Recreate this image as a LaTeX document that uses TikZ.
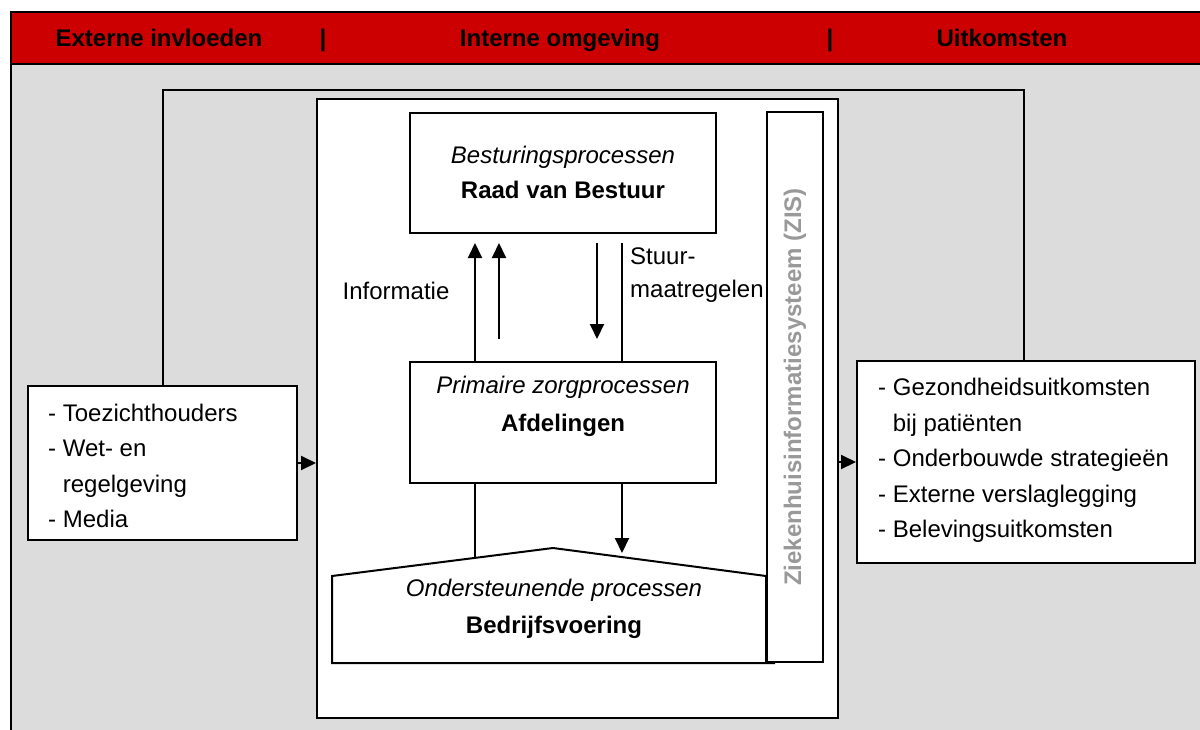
\documentclass[tikz,border=0pt]{standalone}
\usepackage{fontspec}
\setmainfont{Liberation Sans}
\usetikzlibrary{arrows.meta,calc}
\definecolor{headred}{HTML}{CC0000}
\definecolor{panelgray}{HTML}{DCDCDC}
\definecolor{zisgray}{HTML}{999999}
\begin{document}
\begin{tikzpicture}[x=1pt,y=-1pt,
  line/.style={line width=2pt},
  arr/.style={line width=2pt,-{Triangle[length=15pt,width=14pt]}},
  box/.style={draw,line width=2pt,fill=white,inner sep=0pt},
  txt/.style={font=\fontsize{24}{36}\selectfont,inner sep=0pt},
  list/.style={txt,align=left,anchor=west,font=\fontsize{24}{35.5}\selectfont},
  head/.style={txt,anchor=base,font=\fontsize{24}{30}\selectfont\bfseries}]
\useasboundingbox (0,0) rectangle (1200,729);
\fill[white] (0,0) rectangle (1200,729);

% panel background and header band
\fill[panelgray] (11,64) rectangle (1210,740);
\draw[line,fill=headred] (11,12) rectangle (1210,64);
\draw[line] (11,12) -- (11,740);
\node[head] (h1) at (159,46) {Externe invloeden};
\node[head] (s1) at (323,46) {|};
\node[head] (h2) at (560,46) {Interne omgeving};
\node[head] (s2) at (830,46) {|};
\node[head] (h3) at (1002,46) {Uitkomsten};

% feedback loop from outcomes back to external influences
\coordinate (fbl) at (163,90);
\coordinate (fbr) at (1024,90);

% internal environment
\node[box,minimum width=521pt,minimum height=619pt] (intern) at (577.5,408.5) {};

% external influences and outcomes
\node[box,minimum width=269pt,minimum height=154pt] (ext) at (162.5,463) {};
\node[list] (extt) at (48,466) {- Toezichthouders\\- Wet- en\\\hphantom{- }regelgeving\\- Media};
\node[box,minimum width=338pt,minimum height=202pt] (uit) at (1026,462) {};
\node[list] (uitt) at (878,460.5) {- Gezondheidsuitkomsten\\\hphantom{- }bij patiënten\\- Onderbouwde strategieën\\- Externe verslaglegging\\- Belevingsuitkomsten};

\draw[line] (ext.north -| fbl) -- (fbl) -- (fbr) -- (uit.north -| fbr);
\draw[arr] (ext.east) -- (ext.east -| intern.west);
\draw[arr] (intern.east |- uit.west) -- (uit.west);

% management processes
\node[box,minimum width=306pt,minimum height=120pt] (rvb) at (563,173) {};
\node[txt,align=center,font=\fontsize{24}{35}\selectfont] (rvbt) at (563,172) {\itshape Besturingsprocessen\\\bfseries Raad van Bestuur};

% primary care processes
\node[box,minimum width=306pt,minimum height=121pt] (prim) at (563,422.5) {};
\node[txt,align=center,font=\fontsize{24}{38}\selectfont] (primt) at (563,406) {\itshape Primaire zorgprocessen\\\bfseries Afdelingen};

% supporting processes
\coordinate (pbl) at (332,663);
\coordinate (ptl) at (332,576);
\coordinate (pap) at (553,548);
\coordinate (ptr) at (766,576);
\coordinate (pbr) at (775,663);
\draw[line,fill=white] (pbl) -- (ptl) -- (pap) -- (ptr) -- (766,663) -- (pbr) -- (pbl) -- cycle;
\node[txt,align=center,font=\fontsize{24}{37}\selectfont] (ondt) at (554,609) {\itshape Ondersteunende processen\\\bfseries Bedrijfsvoering};

% hospital information system
\node[box,minimum width=56pt,minimum height=550pt] (zis) at (795,387) {};
\node[txt,rotate=90,text=zisgray,font=\fontsize{24}{30}\selectfont\bfseries] (zist) at (zis.center) {Ziekenhuisinformatiesysteem (ZIS)};

% information and steering flows
\coordinate (i1) at (475,243);
\coordinate (i2) at (499,243);
\coordinate (i2s) at (499,339);
\coordinate (d1) at (597,243);
\coordinate (d1e) at (597,339);
\coordinate (d2) at (622,243);
\draw[arr] (i1 |- prim.north) -- (i1);
\draw[arr] (i2s) -- (i2);
\draw[arr] (d1) -- (d1e);
\draw[line] (d2) -- (d2 |- prim.north);
\node[txt] (info) at (396,291) {Informatie};
\node[txt,align=left,anchor=west,font=\fontsize{24}{33}\selectfont] (stuur) at (630,275) {Stuur-\\maatregelen};

% flows towards supporting processes
\coordinate (o1) at (475,558);
\coordinate (o2) at (622,553);
\draw[line] (o1 |- prim.south) -- (o1);
\draw[arr] (o2 |- prim.south) -- (o2);
\end{tikzpicture}
\end{document}
